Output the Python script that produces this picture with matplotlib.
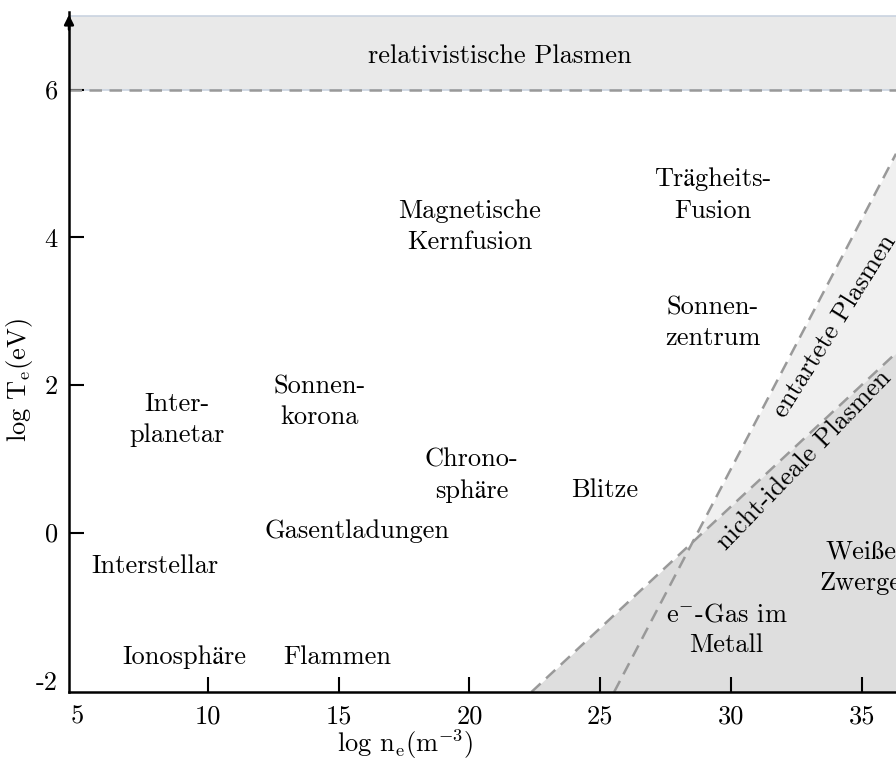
import matplotlib
matplotlib.use("Agg")
import matplotlib.pyplot as plt
import numpy as np

plt.rcParams['font.family'] = ['cmr10', 'STIXGeneral', 'DejaVu Serif']
plt.rcParams['mathtext.fontset'] = 'cm'
plt.rcParams['axes.unicode_minus'] = False
plt.rcParams['axes.formatter.use_mathtext'] = True

# axis range (log n_e, log T_e)
x_range = [4.7, 36.3]
y_range = [-2.16, 7.05]
x_ticks = [5, 10, 15, 20, 25, 30, 35]
y_ticks = [-2, 0, 2, 4, 6]

# boundary of the relativistic regime
relat_T = 6.0

# nicht-ideale Plasmen boundary (two end points)
nonideal_n = [22.37, 36.3]
nonideal_T = [-2.16, 2.43]

# entartete Plasmen boundary
degen_n = [25.53, 36.3]
degen_T = [-2.16, 5.13]

# region labels: text, log n_e, log T_e
labels = [
    ('Trägheits-\nFusion', 29.3, 4.57),
    ('Magnetische\nKernfusion', 20.0, 4.14),
    ('Sonnen-\nzentrum', 29.3, 2.84),
    ('Inter-\nplanetar', 8.82, 1.53),
    ('Sonnen-\nkorona', 14.28, 1.77),
    ('Chrono-\nsphäre', 20.09, 0.77),
    ('Blitze', 25.17, 0.58),
    ('Gasentladungen', 15.69, 0.02),
    ('Interstellar', 7.97, -0.45),
    ('Ionosphäre', 9.12, -1.69),
    ('Flammen', 14.93, -1.69),
    ('e$^{-}$-Gas im\nMetall', 29.83, -1.32),
    ('Weiße\nZwerge', 34.95, -0.47),
]

fig = plt.figure(figsize=(8.96, 7.6), dpi=100)
ax = fig.add_axes([69/896, 1 - 692/760, 827/896, 680/760])
ax.set_xlim(x_range)
ax.set_ylim(y_range)

fs = 19

# relativistic band
ax.axhspan(relat_T, 7.0, facecolor='#e9e9e9', edgecolor='none', zorder=0)
ax.axhline(7.0, color='#c9d3e0', lw=1.2, zorder=1)
ax.axhline(relat_T, color='#c9d3e0', lw=1.2, zorder=1)
ax.axhline(relat_T, color='#999999', lw=1.8, ls=(0, (5, 3)), zorder=2)
ax.text(21.16, 6.45, 'relativistische Plasmen', fontsize=fs, ha='center', va='center')

# shaded regions
ax.fill_between(degen_n, degen_T, y_range[0], color='#f0f0f0', lw=0, zorder=0)
ax.fill_between(nonideal_n, nonideal_T, y_range[0], color='#dedede', lw=0, zorder=0)
ax.plot(degen_n, degen_T, color='#999999', lw=1.8, ls=(0, (5, 3)), zorder=2)
ax.plot(nonideal_n, nonideal_T, color='#999999', lw=1.8, ls=(0, (5, 3)), zorder=2)

ax.text(33.96, 2.8, 'entartete Plasmen', fontsize=fs, ha='center', va='center',
        rotation=58, rotation_mode='anchor')
ax.text(32.8, 0.98, 'nicht-ideale Plasmen', fontsize=fs, ha='center', va='center',
        rotation=46, rotation_mode='anchor')

for txt, x, y in labels:
    ax.text(x, y, txt, fontsize=fs, ha='center', va='center', linespacing=1.4)

# axes styling
for s in ['top', 'right']:
    ax.spines[s].set_visible(False)
for s in ['left', 'bottom']:
    ax.spines[s].set_linewidth(1.8)
ax.set_xticks(x_ticks)
ax.set_xticklabels([str(v) for v in x_ticks])
ax.set_yticks(y_ticks)
ax.set_yticklabels([str(v) for v in y_ticks])
ax.tick_params(direction='in', length=11, width=1.5, labelsize=fs, pad=9)
ax.tick_params(axis='y', pad=8)
ax.xaxis.get_major_ticks()[0].tick1line.set_visible(False)
ax.yaxis.get_major_ticks()[0].tick1line.set_visible(False)

# arrow on y axis
ax.annotate('', xy=(0, 1.0), xycoords='axes fraction', xytext=(0, 0.97),
            arrowprops=dict(arrowstyle='-|>', color='black', lw=1.8, mutation_scale=14),
            annotation_clip=False)

ax.set_xlabel('log n$_\\mathrm{e}$(m$^{-3}$)', fontsize=fs, labelpad=0)
ax.xaxis.set_label_coords(0.406, -0.052)
ax.set_ylabel('log T$_\\mathrm{e}$(eV)', fontsize=fs)
ax.yaxis.set_label_coords(-0.041, 0.459)

fig.savefig('out.png', dpi=100)
